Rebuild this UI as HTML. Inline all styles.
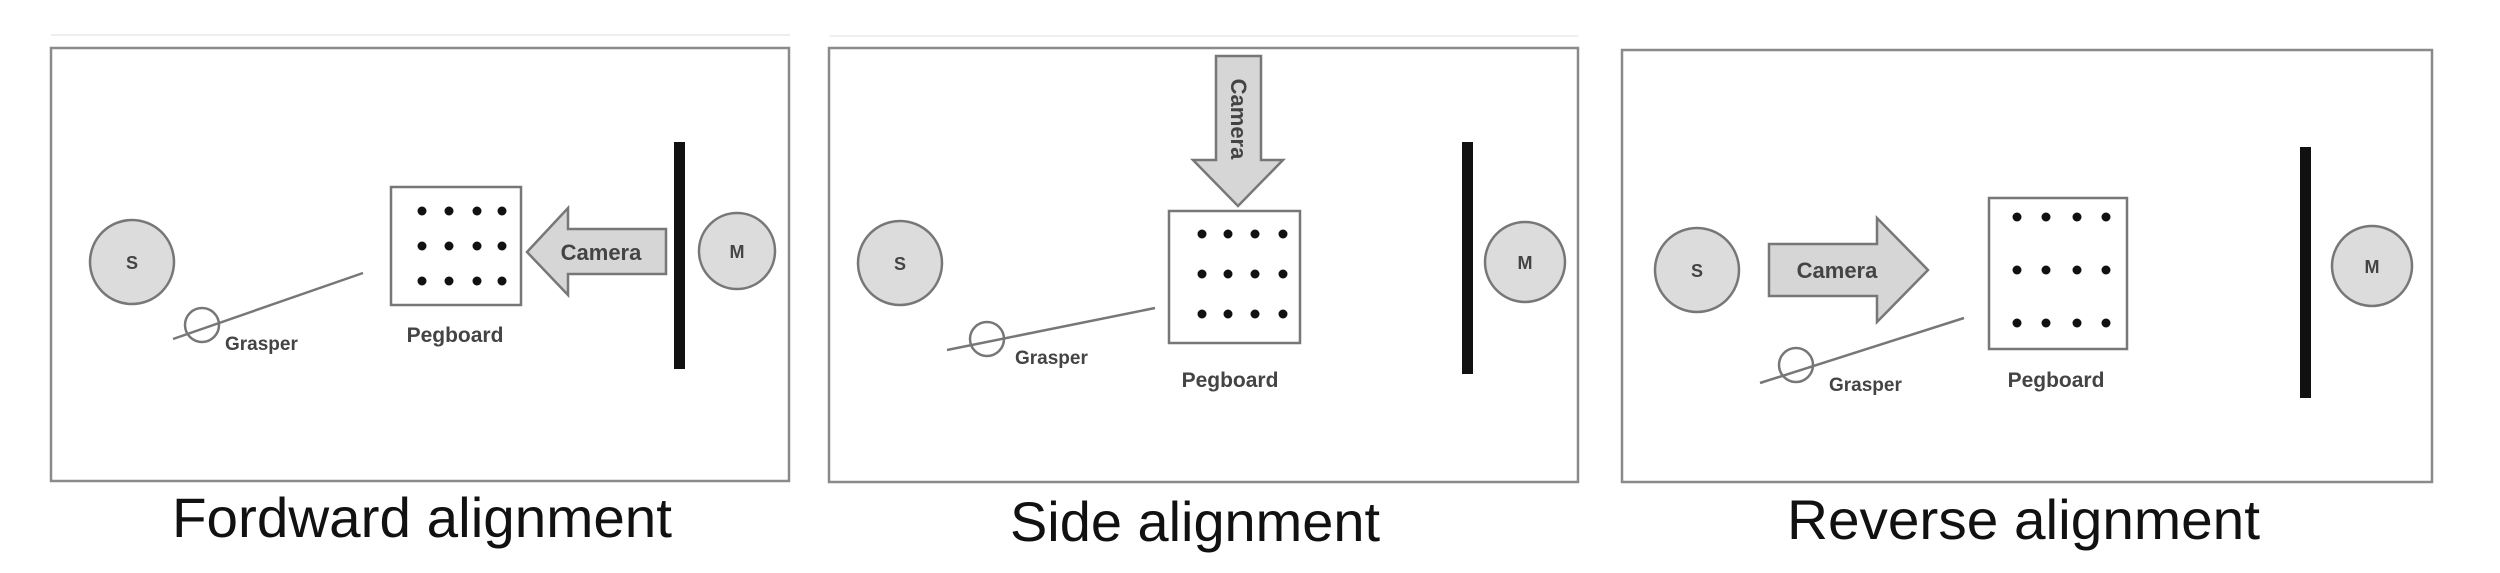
<!DOCTYPE html>
<html><head><meta charset="utf-8"><style>
html,body{margin:0;padding:0;background:#fff;width:2500px;height:573px;overflow:hidden}
</style></head><body>
<svg width="2500" height="573" xmlns="http://www.w3.org/2000/svg" font-family="Liberation Sans, Arial, sans-serif">
<line x1="51" y1="35" x2="790" y2="35" stroke="#eee" stroke-width="2"/>
<line x1="829" y1="36" x2="1578" y2="36" stroke="#f0f0f0" stroke-width="2"/>
<g fill="none" stroke="#8a8a8a" stroke-width="2.5">
<rect x="51" y="48" width="738" height="433"/>
<rect x="829" y="48" width="749" height="434"/>
<rect x="1622" y="50" width="810" height="432"/>
</g>
<!-- Panel 1 -->
<g stroke="#777" stroke-width="2.5">
<circle cx="132" cy="262" r="42" fill="#dcdcdc"/>
<circle cx="737" cy="251" r="38" fill="#dcdcdc"/>
<line x1="173" y1="339" x2="363" y2="273"/>
<circle cx="202" cy="325" r="17" fill="none"/>
<rect x="391" y="187" width="130" height="118" fill="#fff"/>
<polygon points="527,252 568,208 568,229 666,229 666,274 568,274 568,295" fill="#d6d6d6"/>
</g>
<rect x="674" y="142" width="11" height="227" fill="#111"/>
<g fill="#111">
<circle cx="422" cy="211" r="4.5"/><circle cx="449" cy="211" r="4.5"/><circle cx="477" cy="211" r="4.5"/><circle cx="502" cy="211" r="4.5"/>
<circle cx="422" cy="246" r="4.5"/><circle cx="449" cy="246" r="4.5"/><circle cx="477" cy="246" r="4.5"/><circle cx="502" cy="246" r="4.5"/>
<circle cx="422" cy="281" r="4.5"/><circle cx="449" cy="281" r="4.5"/><circle cx="477" cy="281" r="4.5"/><circle cx="502" cy="281" r="4.5"/>
</g>
<g fill="#444" font-weight="bold">
<text x="132" y="269" font-size="18" text-anchor="middle">S</text>
<text x="737" y="258" font-size="18" text-anchor="middle">M</text>
<text x="601" y="260" font-size="22" text-anchor="middle">Camera</text>
<text x="225" y="350" font-size="19">Grasper</text>
<text x="455" y="342" font-size="21" text-anchor="middle">Pegboard</text>
</g>
<text x="172" y="537" font-size="56" textLength="500" lengthAdjust="spacingAndGlyphs" fill="#111">Fordward alignment</text>
<!-- Panel 2 -->
<g stroke="#777" stroke-width="2.5">
<circle cx="900" cy="263" r="42" fill="#dcdcdc"/>
<circle cx="1525" cy="262" r="40" fill="#dcdcdc"/>
<line x1="947" y1="350" x2="1155" y2="308"/>
<circle cx="987" cy="339" r="17" fill="none"/>
<rect x="1169" y="211" width="131" height="132" fill="#fff"/>
<polygon points="1216,56 1261,56 1261,160 1283,160 1238,206 1193,160 1216,160" fill="#d6d6d6"/>
</g>
<rect x="1462" y="142" width="11" height="232" fill="#111"/>
<g fill="#111">
<circle cx="1202" cy="234" r="4.5"/><circle cx="1228" cy="234" r="4.5"/><circle cx="1255" cy="234" r="4.5"/><circle cx="1283" cy="234" r="4.5"/>
<circle cx="1202" cy="274" r="4.5"/><circle cx="1228" cy="274" r="4.5"/><circle cx="1255" cy="274" r="4.5"/><circle cx="1283" cy="274" r="4.5"/>
<circle cx="1202" cy="314" r="4.5"/><circle cx="1228" cy="314" r="4.5"/><circle cx="1255" cy="314" r="4.5"/><circle cx="1283" cy="314" r="4.5"/>
</g>
<g fill="#444" font-weight="bold">
<text x="900" y="270" font-size="18" text-anchor="middle">S</text>
<text x="1525" y="269" font-size="18" text-anchor="middle">M</text>
<text transform="translate(1231,119) rotate(90)" font-size="22" text-anchor="middle">Camera</text>
<text x="1015" y="364" font-size="19">Grasper</text>
<text x="1230" y="387" font-size="21" text-anchor="middle">Pegboard</text>
</g>
<text x="1010" y="541" font-size="56" textLength="370" lengthAdjust="spacingAndGlyphs" fill="#111">Side alignment</text>
<!-- Panel 3 -->
<g stroke="#777" stroke-width="2.5">
<circle cx="1697" cy="270" r="42" fill="#dcdcdc"/>
<circle cx="2372" cy="266" r="40" fill="#dcdcdc"/>
<line x1="1760" y1="383" x2="1964" y2="318"/>
<circle cx="1796" cy="365" r="17" fill="none"/>
<rect x="1989" y="198" width="138" height="151" fill="#fff"/>
<polygon points="1769,244 1877,244 1877,218 1928,270 1877,322 1877,296 1769,296" fill="#d6d6d6"/>
</g>
<rect x="2300" y="147" width="11" height="251" fill="#111"/>
<g fill="#111">
<circle cx="2017" cy="217" r="4.5"/><circle cx="2046" cy="217" r="4.5"/><circle cx="2077" cy="217" r="4.5"/><circle cx="2106" cy="217" r="4.5"/>
<circle cx="2017" cy="270" r="4.5"/><circle cx="2046" cy="270" r="4.5"/><circle cx="2077" cy="270" r="4.5"/><circle cx="2106" cy="270" r="4.5"/>
<circle cx="2017" cy="323" r="4.5"/><circle cx="2046" cy="323" r="4.5"/><circle cx="2077" cy="323" r="4.5"/><circle cx="2106" cy="323" r="4.5"/>
</g>
<g fill="#444" font-weight="bold">
<text x="1697" y="277" font-size="18" text-anchor="middle">S</text>
<text x="2372" y="273" font-size="18" text-anchor="middle">M</text>
<text x="1837" y="278" font-size="22" text-anchor="middle">Camera</text>
<text x="1829" y="391" font-size="19">Grasper</text>
<text x="2056" y="387" font-size="21" text-anchor="middle">Pegboard</text>
</g>
<text x="1787" y="539" font-size="56" textLength="473" lengthAdjust="spacingAndGlyphs" fill="#111">Reverse alignment</text>
</svg>
</body></html>
